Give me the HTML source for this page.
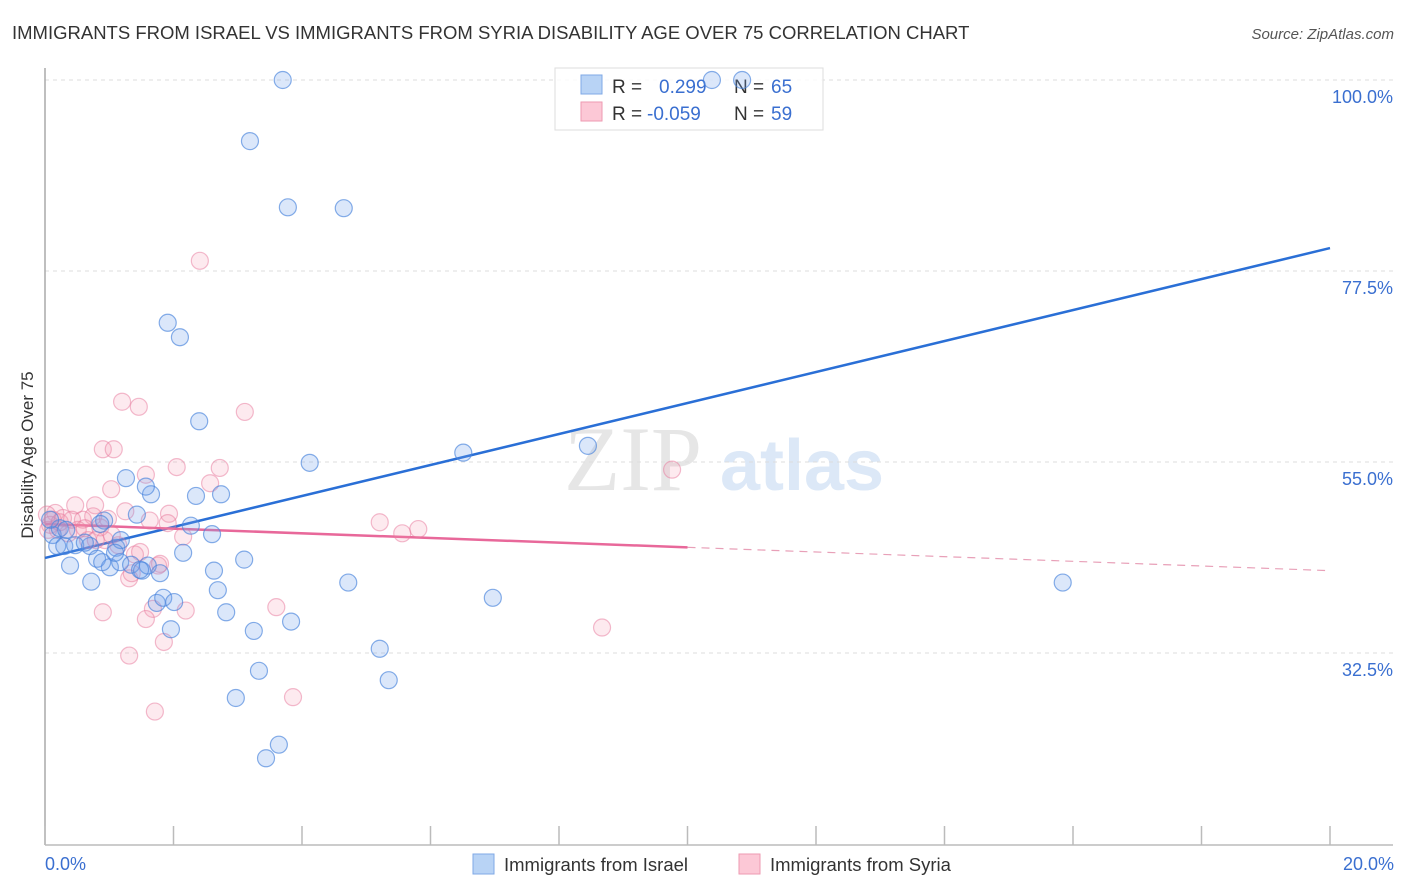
<!DOCTYPE html>
<html><head><meta charset="utf-8"><style>
body{margin:0;background:#fff;font-family:"Liberation Sans",sans-serif;}
svg{display:block}
</style></head><body>
<svg id="chart" width="1406" height="892" viewBox="0 0 1406 892" xmlns="http://www.w3.org/2000/svg" font-family="Liberation Sans, sans-serif">
<text x="12" y="39" font-size="18.5" fill="#333">IMMIGRANTS FROM ISRAEL VS IMMIGRANTS FROM SYRIA DISABILITY AGE OVER 75 CORRELATION CHART</text>
<text x="1394" y="39" font-size="15" fill="#555" font-style="italic" text-anchor="end">Source: ZipAtlas.com</text>
<g>
<text x="633" y="490" font-size="92" fill="#e6e6e6" text-anchor="middle" font-family="Liberation Serif, serif">ZIP</text>
<text x="802" y="490" font-size="72" fill="#dce8f7" text-anchor="middle" font-weight="bold">atlas</text>
</g>
<g id="grid"></g>
<g id="axes"></g>
<g>
<rect x="555" y="68" width="268" height="62" fill="#fff" fill-opacity="0.85" stroke="#ddd"/>
<rect x="581" y="75" width="21" height="19" fill="#b8d3f5" stroke="#7fa8e6"/>
<rect x="581" y="102" width="21" height="19" fill="#fcc8d6" stroke="#ee9ab1"/>
<text x="612" y="93" font-size="19" fill="#333">R =</text>
<text x="659" y="93" font-size="19" fill="#3a6fd0">0.299</text>
<text x="734" y="93" font-size="19" fill="#333">N =</text>
<text x="771" y="93" font-size="19" fill="#3a6fd0">65</text>
<text x="612" y="120" font-size="19" fill="#333">R =</text>
<text x="647" y="120" font-size="19" fill="#3a6fd0">-0.059</text>
<text x="734" y="120" font-size="19" fill="#333">N =</text>
<text x="771" y="120" font-size="19" fill="#3a6fd0">59</text>
</g>
<g id="lines"></g>
<g id="pts"></g>
<text transform="translate(33,455) rotate(-90)" font-size="17" fill="#333" text-anchor="middle">Disability Age Over 75</text>
<text x="45" y="870" font-size="18" fill="#3a6fd0">0.0%</text>
<text x="1394" y="870" font-size="18" fill="#3a6fd0" text-anchor="end">20.0%</text>
<g>
<rect x="473" y="854" width="21" height="20" fill="#b8d3f5" stroke="#7fa8e6"/>
<text x="504" y="871" font-size="18.5" fill="#333">Immigrants from Israel</text>
<rect x="739" y="854" width="21" height="20" fill="#fcc8d6" stroke="#ee9ab1"/>
<text x="770" y="871" font-size="18.5" fill="#333">Immigrants from Syria</text>
</g>
</svg>
<script>
const yTicks=[100,77.5,55,32.5];
const yTickLabels=["100.0%","77.5%","55.0%","32.5%"];
const xTicks=[0,2,4,6,8,10,12,14,16,18,20];
const israelX=[3.70,10.38,10.85,3.19,3.78,4.65,1.91,2.10,2.40,4.12,6.51,8.45,1.26,1.65,2.35,2.74,1.57,1.43,0.92,0.12,0.19,0.30,0.47,0.70,0.81,1.01,1.11,1.18,0.39,0.72,0.89,1.17,1.34,1.51,1.60,1.79,2.15,2.60,2.27,2.63,2.69,2.82,3.10,1.74,1.84,2.01,1.96,3.25,3.83,3.33,2.97,3.64,3.44,4.72,5.21,5.35,6.97,15.84,1.09,0.62,0.23,0.08,0.86,0.33,1.48];
const israelY=[100,100,100,92.8,85.0,84.9,71.4,69.7,59.8,54.9,56.1,56.9,53.1,51.2,51.0,51.2,52.1,48.8,48.1,46.4,45.1,45.1,45.2,45.1,43.6,42.6,44.9,45.8,42.8,40.9,43.2,43.2,42.9,42.2,42.8,41.9,44.3,46.5,47.5,42.2,39.9,37.3,43.5,38.4,39.0,38.5,35.3,35.1,36.2,30.4,27.2,21.7,20.1,40.8,33.0,29.3,39.0,40.8,44.3,45.5,47.2,48.2,47.7,47.0,42.3];
const syriaX=[2.41,1.20,1.46,3.11,0.90,1.07,2.05,2.72,1.57,2.57,1.03,0.47,0.78,0.75,1.25,1.93,1.63,1.91,0.59,0.28,0.16,0.03,0.08,0.20,0.36,0.51,0.67,0.86,0.98,1.14,1.40,2.15,5.21,5.56,5.81,9.76,0.90,1.31,1.35,1.76,1.79,1.68,1.57,2.19,1.85,1.31,1.71,3.60,3.86,8.67,0.12,0.23,0.42,0.05,0.62,0.93,1.48,1.04,0.79];
const syriaY=[78.7,62.1,61.5,60.9,56.5,56.5,54.4,54.3,53.5,52.5,51.8,49.9,49.9,48.6,49.2,48.9,48.1,47.8,48.2,48.4,49.0,48.8,47.6,47.0,46.6,47.0,45.8,47.3,48.3,45.2,44.1,46.2,47.9,46.6,47.1,54.1,37.3,41.3,41.9,42.8,43.0,37.7,36.5,37.5,33.8,32.2,25.6,37.9,27.3,35.5,48.2,47.9,48.2,47.0,47.2,45.8,44.4,46.4,45.8];
const israelTrend=[43.7,80.2];
const syriaTrend=[47.7,42.2];
const NS="http://www.w3.org/2000/svg";
const sx=v=>45+v/20*1285;
const sy=v=>80+(100-v)*191/22.5;
function mk(tag,attrs,parent){const e=document.createElementNS(NS,tag);for(const k in attrs)e.setAttribute(k,attrs[k]);parent.appendChild(e);return e;}
const grid=document.getElementById('grid'),axes=document.getElementById('axes'),lines=document.getElementById('lines'),pts=document.getElementById('pts');
yTicks.forEach((t,i)=>{
 const l=mk('line',{x1:45,x2:1393,y1:sy(t),y2:sy(t),stroke:'#ddd','stroke-dasharray':'4,4'},grid);
 
 
 const tx=mk('text',{x:1393,y:sy(t)+23,'font-size':18,fill:'#3a6fd0','text-anchor':'end'},grid);
 tx.textContent=yTickLabels[i];
 
 
});
const ya=mk('line',{x1:45,x2:45,y1:68,y2:845,stroke:'#aaa','stroke-width':1.5},axes);


const xa=mk('line',{x1:45,x2:1393,y1:845,y2:845,stroke:'#bbb','stroke-width':1.5},axes);


xTicks.forEach(t=>{
 const l=mk('line',{x1:sx(t),x2:sx(t),y1:826,y2:845,stroke:'#bbb','stroke-width':1.5},axes);
 
 
});
function dots(X,Y,fill,stroke,name){
 X.forEach((x,i)=>{
  const c=mk('circle',{cx:sx(x),cy:sy(Y[i]),r:8.5,fill:fill,stroke:stroke,'stroke-width':1.2},pts);
  
  
 });
}
dots(syriaX,syriaY,'rgba(245,150,175,0.2)','rgba(232,120,155,0.5)','syria-point');
dots(israelX,israelY,'rgba(110,160,235,0.25)','rgba(70,130,220,0.65)','israel-point');
const bl=mk('line',{x1:sx(0),y1:sy(israelTrend[0]),x2:sx(20),y2:sy(israelTrend[1]),stroke:'#2a6fd6','stroke-width':2.5},lines);


const pm=syriaTrend[0]+(syriaTrend[1]-syriaTrend[0])*0.5;
const pl=mk('line',{x1:sx(0),y1:sy(syriaTrend[0]),x2:sx(10),y2:sy(pm),stroke:'#e8689a','stroke-width':2.5},lines);


const pd=mk('line',{x1:sx(10),y1:sy(pm),x2:sx(20),y2:sy(syriaTrend[1]),stroke:'#e8a0b8','stroke-width':1.2,'stroke-dasharray':'8,6'},lines);


</script>
</body></html>
